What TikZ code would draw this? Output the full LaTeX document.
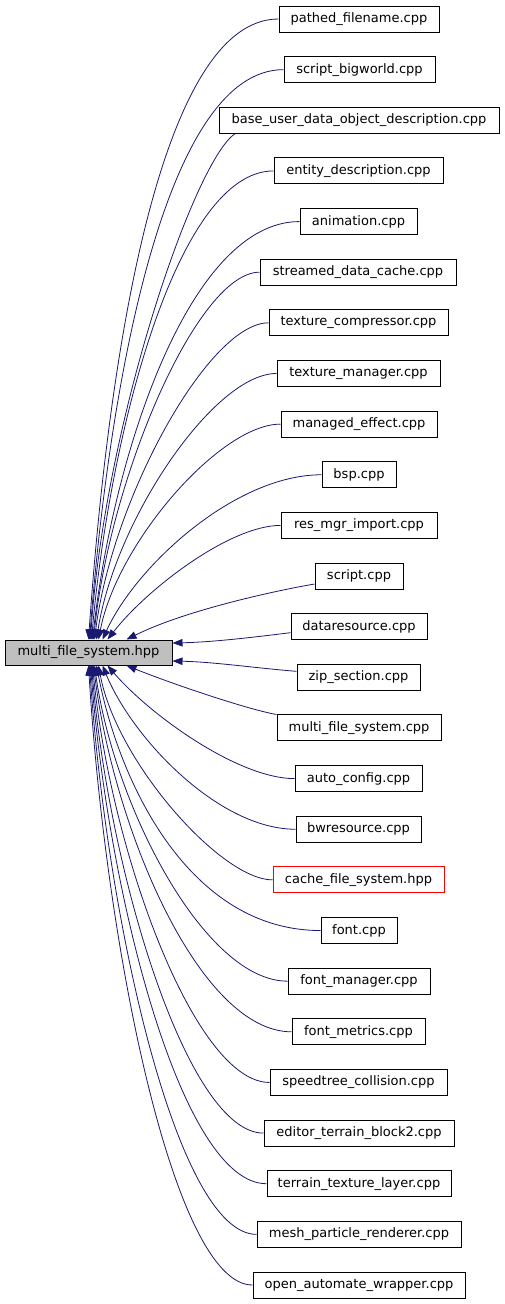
\documentclass[tikz,border=0pt]{standalone}
\usepackage{fontspec}
\setmainfont{DejaVu Sans}
\usetikzlibrary{arrows.meta}
\definecolor{edgeblue}{HTML}{191970}
\definecolor{mainfill}{HTML}{BFBFBF}
\begin{document}
\begin{tikzpicture}[x=1pt,y=-1pt,
  box/.style={draw=black, line width=1pt, minimum height=26pt, inner sep=0pt,
              font=\fontsize{13}{15}\selectfont, text=black},
  redbox/.style={box, draw=red},
  edge/.style={draw=edgeblue, line width=0.8pt,
               -{Triangle[length=10pt,width=7.5pt]}, fill=none}]
\fill[white] (0,0) rectangle (504,1304);
\useasboundingbox (0,0) rectangle (504,1304);

% main node
\node[box, fill=mainfill, minimum width=167pt, minimum height=25pt] (m) at (88.5,652.5) {multi\_file\_system.hpp};

% dependent files
\node[box, minimum width=160pt] (n1)  at (359,19)      {pathed\_filename.cpp};
\node[box, minimum width=151pt] (n2)  at (359.5,69.64) {script\_bigworld.cpp};
\node[box, minimum width=280pt] (n3)  at (359,120.28)  {base\_user\_data\_object\_description.cpp};
\node[box, minimum width=169pt] (n4)  at (358.5,170.92){entity\_description.cpp};
\node[box, minimum width=117pt] (n5)  at (358.5,221.56){animation.cpp};
\node[box, minimum width=196pt] (n6)  at (358,272.2)   {streamed\_data\_cache.cpp};
\node[box, minimum width=179pt] (n7)  at (358.5,322.84){texture\_compressor.cpp};
\node[box, minimum width=163pt] (n8)  at (358.5,373.48){texture\_manager.cpp};
\node[box, minimum width=156pt] (n9)  at (359,424.12)  {managed\_effect.cpp};
\node[box, minimum width=74pt]  (n10) at (359,474.76)  {bsp.cpp};
\node[box, minimum width=156pt] (n11) at (359,525.4)   {res\_mgr\_import.cpp};
\node[box, minimum width=88pt]  (n12) at (359,576.04)  {script.cpp};
\node[box, minimum width=136pt] (n13) at (359,626.68)  {dataresource.cpp};
\node[box, minimum width=123pt] (n14) at (358.5,677.32){zip\_section.cpp};
\node[box, minimum width=164pt] (n15) at (359,727.96)  {multi\_file\_system.cpp};
\node[box, minimum width=127pt] (n16) at (358.5,778.6) {auto\_config.cpp};
\node[box, minimum width=125pt] (n17) at (358.5,829.24){bwresource.cpp};
\node[redbox, minimum width=171pt] (n18) at (358.5,879.88){cache\_file\_system.hpp};
\node[box, minimum width=76pt]  (n19) at (359,930.52)  {font.cpp};
\node[box, minimum width=142pt] (n20) at (359,981.16)  {font\_manager.cpp};
\node[box, minimum width=133pt] (n21) at (358.5,1031.8){font\_metrics.cpp};
\node[box, minimum width=177pt] (n22) at (358.5,1082.44){speedtree\_collision.cpp};
\node[box, minimum width=190pt] (n23) at (359,1133.08) {editor\_terrain\_block2.cpp};
\node[box, minimum width=184pt] (n24) at (359,1183.72) {terrain\_texture\_layer.cpp};
\node[box, minimum width=204pt] (n25) at (359,1234.36) {mesh\_particle\_renderer.cpp};
\node[box, minimum width=212pt] (n26) at (359,1285)    {open\_automate\_wrapper.cpp};

% edges ending on top of main node
\foreach \i/\w/\xe/\px in {1/160/89/159, 2/151/90/165, 4/169/92/178, 5/117/93/190,
    6/196/94/198, 7/179/95/209, 8/163/97/214, 9/156/99/220, 10/74/103/235, 11/156/108/230}{
  \pgfmathsetmacro\sY{19+(\i-1)*50.64}
  \pgfmathsetmacro\sX{359-\w/2}
  \pgfmathsetmacro\wW{\sX-\xe}
  \pgfmathsetmacro\hH{640-\sY}
  \pgfmathsetmacro\cX{\xe+0.1*\wW+0.3*\wW*max(0,1-\hH/200)}
  \pgfmathsetmacro\cY{640-0.45*\hH}
  \pgfmathsetmacro\dX{\xe-5}
  \draw[edge] (n\i.west) .. controls (\px,\sY) and (\cX,\cY) .. ([xshift=\dX pt]m.north west);
}

% edges ending on bottom of main node
\foreach \i/\w/\xe/\px in {16/127/108/239, 17/125/103/219, 18/171/99/221, 19/76/97/190,
    20/142/95/205, 21/133/94/200, 22/177/93/195, 23/190/92/188, 24/184/91/182,
    25/204/90/177, 26/212/89/173}{
  \pgfmathsetmacro\sY{19+(\i-1)*50.64}
  \pgfmathsetmacro\sX{359-\w/2}
  \pgfmathsetmacro\wW{\sX-\xe}
  \pgfmathsetmacro\hH{\sY-665}
  \pgfmathsetmacro\cX{\xe+0.1*\wW+0.3*\wW*max(0,1-\hH/200)}
  \pgfmathsetmacro\cY{665+0.45*\hH}
  \pgfmathsetmacro\dX{\xe-5}
  \draw[edge] (n\i.west) .. controls (\px,\sY) and (\cX,\cY) .. ([xshift=\dX pt]m.south west);
}

% special edges
\draw[edge] ([xshift=-124pt]n3.south) .. controls (195,160) and (105,420) .. ([xshift=86pt]m.north west);
\draw[edge] ([yshift=-8pt]n12.west) .. controls (290,588) and (190,608) .. ([xshift=122pt]m.north west);
\draw[edge] ([yshift=-6pt]n13.west) .. controls (255,637) and (215,642) .. ([yshift=9.5pt]m.east);
\draw[edge] ([yshift=6pt]n14.west) .. controls (255,668) and (215,662) .. ([yshift=-8.5pt]m.east);
\draw[edge] (n15.north west) .. controls (250,710) and (175,685) .. ([xshift=122pt]m.south west);
\end{tikzpicture}
\end{document}
